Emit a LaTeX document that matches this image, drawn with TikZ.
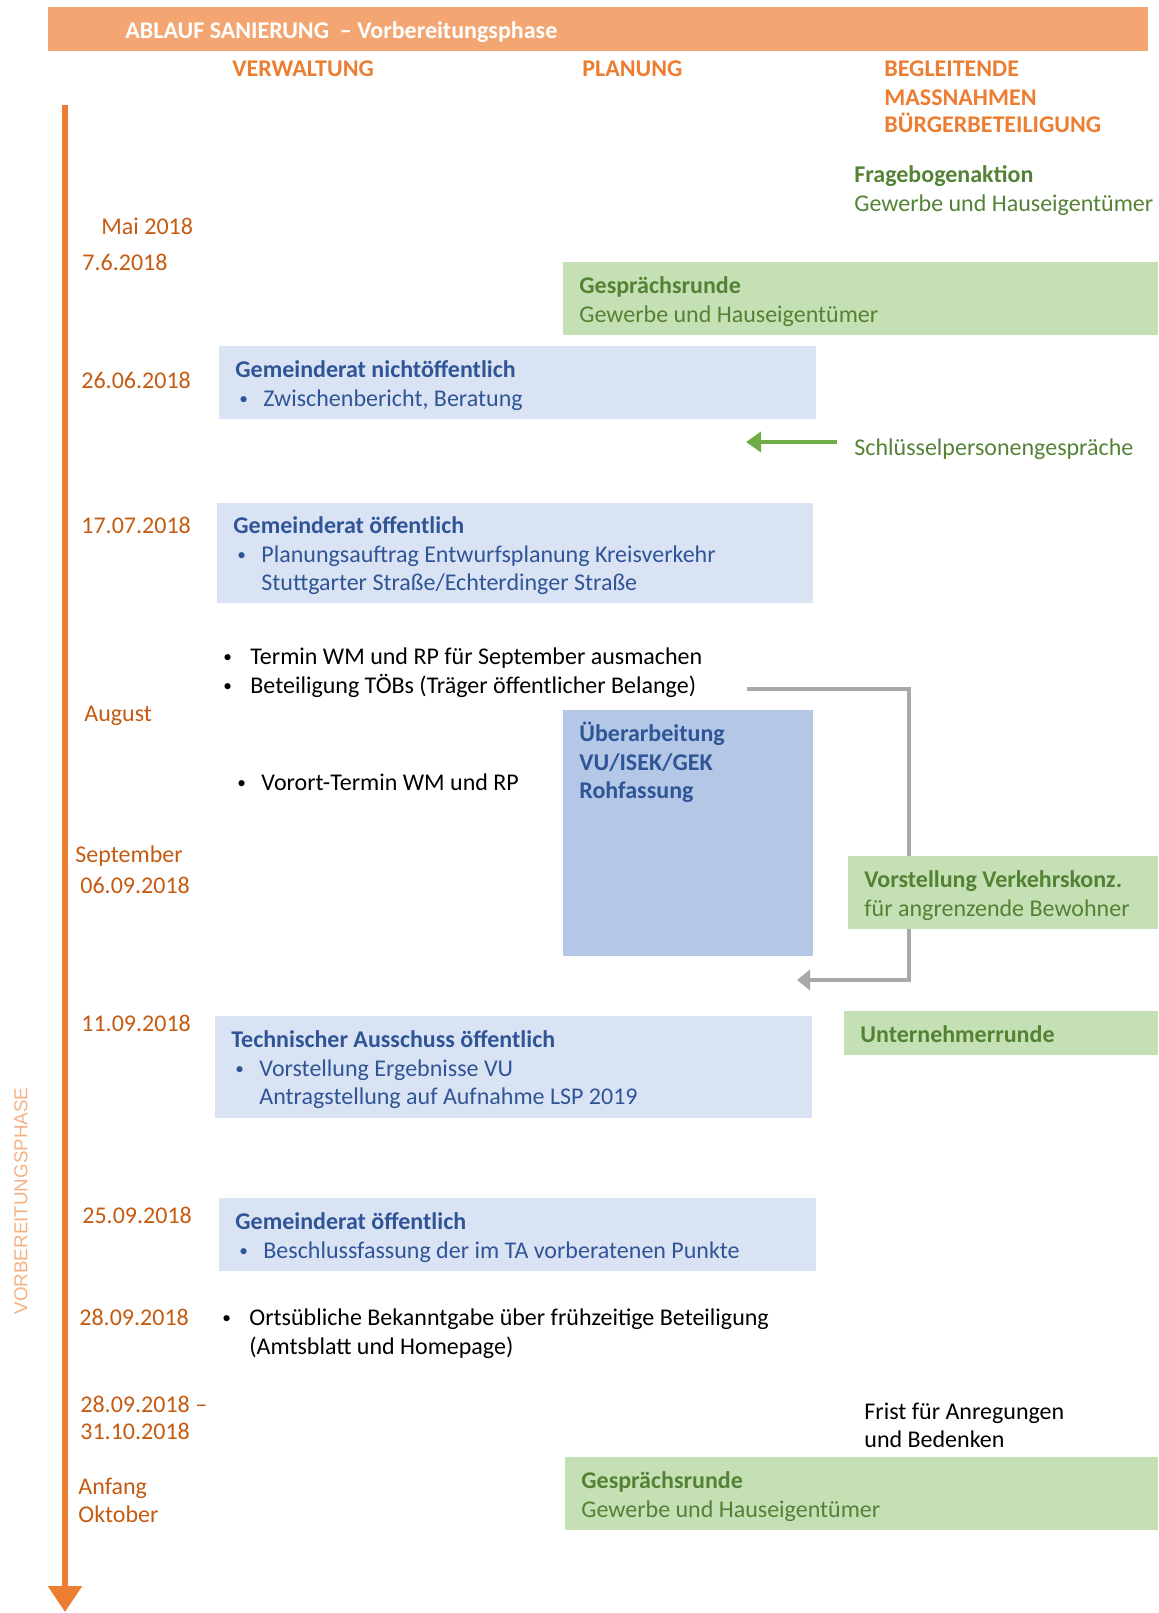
\documentclass[tikz,border=0pt]{standalone}
\usepackage{fontspec}
\usepackage{graphicx}
\setmainfont{Carlito}
\newfontfamily\arialfont{Liberation Sans}
\usetikzlibrary{arrows.meta}
\definecolor{barfill}{HTML}{F3A671}
\definecolor{hdr}{HTML}{ED7D31}
\definecolor{datec}{HTML}{C55A11}
\definecolor{grn}{HTML}{548235}
\definecolor{grnfill}{HTML}{C5E0B4}
\definecolor{grnarrow}{HTML}{70AD47}
\definecolor{blu}{HTML}{2F5597}
\definecolor{blufill}{HTML}{DAE3F3}
\definecolor{bludark}{HTML}{B4C7E7}
\definecolor{connc}{HTML}{A9A9A9}
\definecolor{phase}{HTML}{F4B183}
\newcommand\smallbul{\raisebox{0.9pt}{\scalebox{0.72}{•}}}
\newcommand\bitem{\hspace*{2pt}\makebox[12pt][l]{\smallbul}}
\newcommand\bcont{\hspace*{14pt}}
\newcommand\fbul{\makebox[13.5pt][l]{\smallbul}}
\newcommand\topstrut{\rule{0pt}{13.1pt}}
\tikzset{
  basefont/.style={font=\fontsize{12}{14.4}\selectfont},
  txt/.style={anchor=base west, inner sep=0pt, basefont},
  datelbl/.style={txt, text=datec},
  colhead/.style={txt, text=hdr, font=\fontsize{12}{14.4}\selectfont\bfseries},
  grntxt/.style={txt, text=grn},
  grnbold/.style={txt, text=grn, font=\fontsize{12}{14.4}\selectfont\bfseries},
  blktxt/.style={txt, text=black},
  boxbase/.style={anchor=north west, inner xsep=8pt, inner ysep=0pt, align=flush left, basefont},
  bluebox/.style={boxbase, fill=blufill, text=blu},
  greenbox/.style={boxbase, fill=grnfill, text=grn},
  timeline/.style={line width=2.8pt, draw=hdr, -{Triangle[width=16.5pt,length=13pt]}},
  greenarrow/.style={line width=2pt, draw=grnarrow, -{Triangle[width=10pt,length=7.5pt]}},
  grayconn/.style={line width=1.65pt, draw=connc, -{Triangle[width=10pt,length=6.5pt]}},
}
\begin{document}
\begin{tikzpicture}[x=0.5pt,y=-0.5pt]
\useasboundingbox (0,0) rectangle (1158,1613);

% header
\node[anchor=north west, fill=barfill, minimum width=550pt, minimum height=22pt, inner sep=0pt] (bar) at (48,7) {};
\node[txt, text=white, font=\fontsize{12}{14.4}\selectfont\bfseries] (title) at (125,38) {ABLAUF SANIERUNG \ – Vorbereitungsphase};
\node[colhead] (hverw) at (232,76) {VERWALTUNG};
\node[colhead] (hplan) at (582,76) {PLANUNG};
\node[colhead] (hbeg1) at (884,76) {BEGLEITENDE};
\node[colhead] (hbeg2) at (884,105) {MASSNAHMEN};
\node[colhead] (hbeg3) at (884,132) {BÜRGERBETEILIGUNG};

% timeline
\coordinate (tltop) at (65,105);
\coordinate (tlend) at (65,1612);
\draw[timeline] (tltop) -- (tlend);
\node[rotate=90, inner sep=0pt, text=phase, font=\arialfont\fontsize{9.4}{11}\selectfont] (phase) at (21,1201) {VORBEREITUNGSPHASE};

% dates
\node[datelbl] (d1) at (101,234) {Mai 2018};
\node[datelbl] (d2) at (82,270) {7.6.2018};
\node[datelbl] (d3) at (81,388) {26.06.2018};
\node[datelbl] (d4) at (81,533) {17.07.2018};
\node[datelbl] (d5) at (84,721) {August};
\node[datelbl] (d6) at (75,862) {September};
\node[datelbl] (d7) at (80,893) {06.09.2018};
\node[datelbl] (d8) at (81,1031) {11.09.2018};
\node[datelbl] (d9) at (82,1223) {25.09.2018};
\node[datelbl] (d10) at (79,1325) {28.09.2018};
\node[datelbl] (d11) at (80,1412) {28.09.2018 –};
\node[datelbl] (d12) at (80,1439) {31.10.2018};
\node[datelbl] (d13) at (78,1494) {Anfang};
\node[datelbl] (d14) at (78,1522) {Oktober};

% Fragebogenaktion
\node[grnbold] (fb1) at (854,182) {Fragebogenaktion};
\node[grntxt] (fb2) at (854,211) {Gewerbe und Hauseigentümer};

% boxes
\node[greenbox, minimum width=297.5pt, minimum height=36.5pt, text width=281.5pt] (g1) at (563,262)
  {\topstrut\textbf{Gesprächsrunde}\\Gewerbe und Hauseigentümer\strut};
\node[bluebox, minimum width=298.5pt, minimum height=36.5pt, text width=282.5pt] (b1) at (219,346)
  {\topstrut\textbf{Gemeinderat nichtöffentlich}\\\bitem Zwischenbericht, Beratung\strut};

\node[grntxt] (schl) at (854,455) {Schlüsselpersonengespräche};
\coordinate (ga0) at (837,442);
\coordinate (ga1) at (746,442);
\draw[greenarrow] (ga0) -- (ga1);

\node[bluebox, minimum width=298pt, minimum height=50pt, text width=282pt] (b2) at (217,503)
  {\topstrut\textbf{Gemeinderat öffentlich}\\\bitem Planungsauftrag Entwurfsplanung Kreisverkehr\\\bcont Stuttgarter Straße/Echterdinger Straße\strut};

\node[blktxt] (t1) at (223,664) {\fbul Termin WM und RP für September ausmachen};
\node[blktxt] (t2) at (223,693) {\fbul Beteiligung TÖBs (Träger öffentlicher Belange)};
\node[blktxt] (vor) at (237,790) {\makebox[12pt][l]{\smallbul}Vorort-Termin WM und RP};

% gray connector
\coordinate (c0) at (747,689);
\coordinate (c2) at (909,980);
\coordinate (c1) at (797,980);
\draw[grayconn] (c0) -| (c2) -- (c1);

\node[anchor=north west, fill=bludark, text=blu, inner xsep=8pt, inner ysep=5.4pt, basefont] (ub) at (563,710)
  {\begin{minipage}[c][112.2pt][t]{109pt}\raggedright\bfseries\strut Überarbeitung\\VU/ISEK/GEK\\Rohfassung\end{minipage}};

\node[greenbox, minimum width=155pt, minimum height=36.5pt, text width=139pt] (gv) at (848,856)
  {\topstrut\textbf{Vorstellung Verkehrskonz.}\\für angrenzende Bewohner\strut};

\node[bluebox, minimum width=298.5pt, minimum height=51pt, text width=282.5pt] (b3) at (215,1016)
  {\topstrut\textbf{Technischer Ausschuss öffentlich}\\\bitem Vorstellung Ergebnisse VU\\\bcont Antragstellung auf Aufnahme LSP 2019\strut};
\node[greenbox, minimum width=157pt, minimum height=22pt, text width=141pt] (gu) at (844,1011)
  {\rule{0pt}{9.5pt}\textbf{Unternehmerrunde}};

\node[bluebox, minimum width=298.5pt, minimum height=36.5pt, text width=282.5pt] (b4) at (219,1198)
  {\topstrut\textbf{Gemeinderat öffentlich}\\\bitem Beschlussfassung der im TA vorberatenen Punkte\strut};

\node[blktxt] (o1) at (222,1325) {\fbul Ortsübliche Bekanntgabe über frühzeitige Beteiligung};
\node[blktxt] (o2) at (249,1354) {(Amtsblatt und Homepage)};

\node[blktxt] (f1) at (864,1419) {Frist für Anregungen};
\node[blktxt] (f2) at (864,1447) {und Bedenken};

\node[greenbox, minimum width=296.5pt, minimum height=36.5pt, text width=280.5pt] (g2) at (565,1457)
  {\topstrut\textbf{Gesprächsrunde}\\Gewerbe und Hauseigentümer\strut};
\end{tikzpicture}
\end{document}
